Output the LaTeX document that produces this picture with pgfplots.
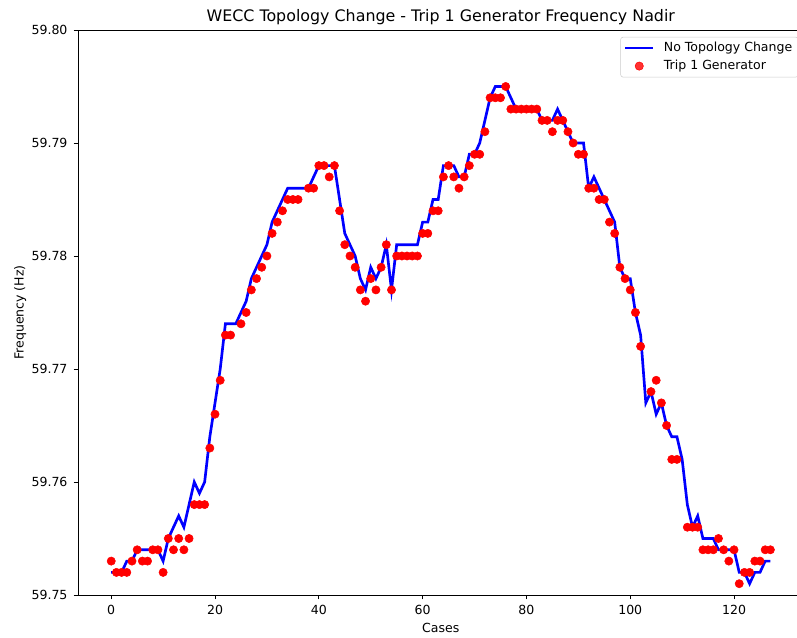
\documentclass[border=0pt]{standalone}
\usepackage{pgfplots}
\usepackage{pgfplotstable}
\pgfplotsset{compat=1.18}
\usepackage{fontspec}
\setmainfont{DejaVu Sans}

\pgfplotsset{
  linelegend/.style={legend image code/.code={\draw[##1] (0pt,0pt) -- (21pt,0pt);}},
  dotlegend/.style={legend image code/.code={\draw[mark repeat=2,mark phase=2,##1] plot coordinates {(0pt,0pt)(10.5pt,0pt)(21pt,0pt)};}},
}

\pgfplotstableread{
x y
0 59.753
1 59.752
2 59.752
3 59.752
4 59.753
5 59.754
6 59.753
7 59.753
8 59.754
9 59.754
10 59.752
11 59.755
12 59.754
13 59.755
14 59.754
15 59.755
16 59.758
17 59.758
18 59.758
19 59.763
20 59.766
21 59.769
22 59.773
23 59.773
25 59.774
26 59.775
27 59.777
28 59.778
29 59.779
30 59.780
31 59.782
32 59.783
33 59.784
34 59.785
35 59.785
36 59.785
38 59.786
39 59.786
40 59.788
41 59.788
42 59.787
43 59.788
44 59.784
45 59.781
46 59.780
47 59.779
48 59.777
49 59.776
50 59.778
51 59.777
52 59.779
53 59.781
54 59.777
55 59.780
56 59.780
57 59.780
58 59.780
59 59.780
60 59.782
61 59.782
62 59.784
63 59.784
64 59.787
65 59.788
66 59.787
67 59.786
68 59.787
69 59.788
70 59.789
71 59.789
72 59.791
73 59.794
74 59.794
75 59.794
76 59.795
77 59.793
78 59.793
79 59.793
80 59.793
81 59.793
82 59.793
83 59.792
84 59.792
85 59.791
86 59.792
87 59.792
88 59.791
89 59.790
90 59.789
91 59.789
92 59.786
93 59.786
94 59.785
95 59.785
96 59.783
97 59.782
98 59.779
99 59.778
100 59.777
101 59.775
102 59.772
104 59.768
105 59.769
106 59.767
107 59.765
108 59.762
109 59.762
111 59.756
112 59.756
113 59.756
114 59.754
115 59.754
116 59.754
117 59.755
118 59.754
119 59.753
120 59.754
121 59.751
122 59.752
123 59.752
124 59.753
125 59.753
126 59.754
127 59.754
}\tripdata

\pgfplotstableread{
x y
0 59.752
1 59.752
2 59.752
3 59.753
4 59.753
5 59.754
6 59.754
7 59.754
8 59.754
9 59.754
10 59.753
11 59.755
12 59.756
13 59.757
14 59.756
15 59.758
16 59.760
17 59.759
18 59.760
19 59.764
20 59.767
21 59.770
22 59.774
23 59.774
24 59.774
25 59.775
26 59.776
27 59.778
28 59.779
29 59.780
30 59.781
31 59.783
32 59.784
33 59.785
34 59.786
35 59.786
36 59.786
37 59.786
38 59.786
39 59.787
40 59.788
41 59.788
42 59.788
43 59.788
44 59.785
45 59.782
46 59.781
47 59.780
48 59.778
49 59.777
50 59.779
51 59.778
52 59.779
53 59.781
54 59.777
55 59.781
56 59.781
57 59.781
58 59.781
59 59.781
60 59.783
61 59.783
62 59.785
63 59.785
64 59.788
65 59.788
66 59.788
67 59.787
68 59.787
69 59.789
70 59.789
71 59.790
72 59.792
73 59.794
74 59.795
75 59.795
76 59.795
77 59.794
78 59.793
79 59.793
80 59.793
81 59.793
82 59.793
83 59.792
84 59.792
85 59.792
86 59.793
87 59.792
88 59.791
89 59.790
90 59.790
91 59.790
92 59.786
93 59.787
94 59.786
95 59.785
96 59.784
97 59.783
98 59.779
99 59.778
100 59.778
101 59.775
102 59.773
103 59.767
104 59.768
105 59.766
106 59.767
107 59.765
108 59.764
109 59.764
110 59.762
111 59.758
112 59.756
113 59.757
114 59.755
115 59.755
116 59.755
117 59.754
118 59.754
119 59.754
120 59.754
121 59.752
122 59.752
123 59.751
124 59.752
125 59.752
126 59.753
127 59.753
}\basedata

\begin{document}
\begin{tikzpicture}
\begin{axis}[
  scale only axis,
  width=543.8pt, height=423.75pt,
  xmin=-6.35, xmax=133.35,
  ymin=59.75, ymax=59.80,
  xtick={0,20,40,60,80,100,120},
  xticklabels={0,20,40,60,80,100,120},
  ytick={59.75,59.76,59.77,59.78,59.79,59.80},
  yticklabels={59.75,59.76,59.77,59.78,59.79,59.80},
  xtick pos=left, ytick pos=left,
  tick align=outside,
  major tick length=3.4pt,
  tick style={black, line width=0.6pt},
  axis line style={black, line width=0.6pt},
  ticklabel style={font=\fontsize{9.4}{11}\selectfont},
  xticklabel style={anchor=north, inner sep=0pt, yshift=-3.9pt},
  yticklabel style={anchor=east, inner sep=0pt, xshift=-4.5pt},
  title={WECC Topology Change - Trip 1 Generator Frequency Nadir},
  title style={at={(axis description cs:0.5,1)}, anchor=base, yshift=0.3pt, inner sep=0pt, font=\fontsize{11.9}{14}\selectfont},
  xlabel={Cases},
  ylabel={Frequency (Hz)},
  every axis x label/.style={at={(axis description cs:0.5,0)}, anchor=base, yshift=-28.3pt, inner sep=0pt, font=\fontsize{9.4}{11}\selectfont},
  every axis y label/.style={at={([xshift=-41pt]axis description cs:0,0.5)}, rotate=90, anchor=base, inner sep=0pt, font=\fontsize{9.4}{11}\selectfont},
  legend style={at={(1,1)}, anchor=north east, xshift=-3.6pt, yshift=-5.1pt,
    draw=black!20, rounded corners=2pt, fill=white, fill opacity=0.8, text opacity=1,
    font=\fontsize{9.4}{11}\selectfont, inner xsep=2.5pt, inner ysep=1.6pt, row sep=0pt,
    column sep=5pt, nodes={inner xsep=2pt, inner ysep=2.4pt}},
  legend cell align=left,
]
\coordinate (sw) at (rel axis cs:0,0);
\addlegendimage{linelegend, blue, line width=2pt}
\addlegendentry{No Topology Change}
\addlegendimage{dotlegend, only marks, mark=*, mark size=3.1pt, red}
\addlegendentry{Trip 1 Generator}
\addplot[only marks, mark=*, mark size=3.1pt, color=red, forget plot] table {\tripdata};
\addplot[blue, line width=2pt, forget plot] table {\basedata};
\end{axis}
\pgfresetboundingbox
\path[use as bounding box] ([xshift=-58.7pt,yshift=-32.25pt]sw) rectangle ++(597.75pt,478.5pt);
\end{tikzpicture}
\end{document}
